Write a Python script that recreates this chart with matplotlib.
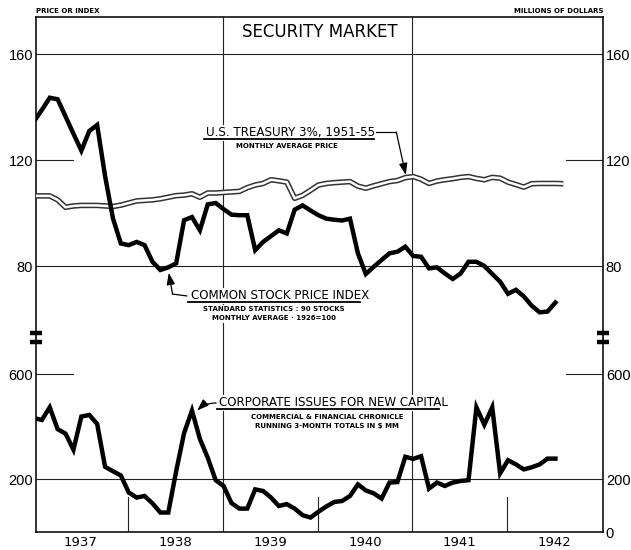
import numpy as np
import matplotlib
matplotlib.use("Agg")
import matplotlib.pyplot as plt
from matplotlib.lines import Line2D

# ---- monthly series, January 1937 onward ----
stock_index = [134.6, 139.0, 143.6, 143.0, 136.5, 130.0, 123.6, 131.0, 133.3, 114.0,
               98.0, 88.5, 87.9, 89.1, 87.9, 81.6, 78.5, 79.5, 81.0, 97.3,
               98.5, 93.5, 103.3, 103.8, 101.5, 99.4, 99.2, 99.2, 86.0, 89.1,
               91.3, 93.5, 92.3, 101.3, 102.9, 101.0, 99.2, 97.9, 97.5, 97.2,
               97.9, 84.8, 77.0, 79.7, 82.3, 84.8, 85.4, 87.3, 83.8, 83.5,
               79.1, 79.5, 77.2, 75.1, 77.2, 81.6, 81.6, 80.0, 77.0, 74.1,
               69.5, 71.0, 68.5, 65.0, 62.5, 62.8, 66.2]

treasury_price = [106.5, 106.5, 106.5, 105.0, 102.2, 102.7, 102.9, 102.9, 102.9, 102.7,
                  102.5, 103.0, 103.8, 104.6, 104.8, 105.0, 105.4, 106.0, 106.6, 106.8,
                  107.3, 106.0, 107.6, 107.6, 107.8, 108.0, 108.2, 109.6, 110.6, 111.2,
                  112.6, 112.2, 111.7, 105.6, 106.7, 108.6, 110.6, 111.2, 111.5, 111.7,
                  111.9, 110.2, 109.4, 110.3, 111.1, 111.9, 112.3, 113.4, 113.8, 112.8,
                  111.2, 112.1, 112.6, 113.0, 113.5, 113.8, 113.1, 112.6, 113.5, 113.2,
                  111.7, 110.8, 109.8, 111.1, 111.2, 111.2, 111.2, 111.1]

corporate_issues = [433, 426, 474, 391, 374, 313, 439, 445, 411, 248,
                    231, 215, 150, 131, 137, 109, 74, 74, 231, 376,
                    462, 354, 282, 197, 175, 110, 89, 89, 162, 156,
                    131, 99, 106, 89, 64, 55, 77, 97, 114, 118,
                    137, 181, 158, 147, 127, 188, 190, 286, 278, 288,
                    165, 188, 175, 188, 194, 197, 474, 408, 474, 223,
                    273, 257, 238, 246, 257, 279, 279]

year_labels = ["1937", "1938", "1939", "1940", "1941", "1942"]
upper_ticks = [80, 120, 160]
lower_ticks_left = [200, 600]
lower_ticks_right = [0, 200, 600]


def month_positions(n):
    return 1937 + (np.arange(n) + 0.1) / 12.0


NUM_FONT = "Liberation Sans"
TICK_FS = 10.5

W, H = 631, 550
fig = plt.figure(figsize=(W / 100, H / 100), dpi=100)
fig.patch.set_facecolor("white")

L, R, T, B, BRK = 36, 603, 17, 532, 338
ax_up = fig.add_axes([L / W, 1 - BRK / H, (R - L) / W, (BRK - T) / H])
ax_lo = fig.add_axes([L / W, 1 - B / H, (R - L) / W, (B - BRK) / H], sharex=ax_up)

XLIM = (1937.03, 1943.01)
ax_up.set_xlim(*XLIM)
ax_up.set_ylim(52.8, 174.1)
ax_lo.set_ylim(0, 737.6)

GRID = dict(color="#222222", lw=0.8, zorder=1)
SPINE_LW = 1.2

for ax in (ax_up, ax_lo):
    for s in ax.spines.values():
        s.set_linewidth(SPINE_LW)
        s.set_color("#111111")
    ax.tick_params(length=0)
ax_up.spines["bottom"].set_visible(False)
ax_lo.spines["top"].set_visible(False)

# upper scale: price / index
ax_up.set_yticks(upper_ticks)
ax_up.tick_params(axis="y", labelleft=True, labelright=True, labelsize=TICK_FS, pad=2)
ax_up.tick_params(axis="x", labelbottom=False)
ax_up.axhline(160, **GRID)
ax_up.axhline(80, **GRID)
ax_up.axhline(120, xmin=0, xmax=0.065, **GRID)
ax_up.axhline(120, xmin=0.935, xmax=1, **GRID)
ax_up.axvline(1939, **GRID)
ax_up.axvline(1941, **GRID)

# lower scale: millions of dollars
ax_lo.set_yticks(lower_ticks_left)
ax_lo.tick_params(axis="y", labelsize=TICK_FS, pad=2)
ax_r = ax_lo.twinx()
ax_r.set_ylim(ax_lo.get_ylim())
ax_r.set_yticks(lower_ticks_right)
ax_r.tick_params(length=0, labelsize=TICK_FS, pad=2)
for s in ax_r.spines.values():
    s.set_visible(False)

ax_lo.axhline(200, **GRID)
ax_lo.axhline(600, xmin=0, xmax=0.065, **GRID)
ax_lo.axhline(600, xmin=0.935, xmax=1, **GRID)
ax_lo.axvline(1939, **GRID)
ax_lo.axvline(1941, **GRID)
for yr in (1938, 1940, 1942):
    ax_lo.axvline(yr, ymin=0, ymax=0.18, **GRID)

ax_lo.set_xticks([y + 0.5 for y in range(1937, 1943)])
ax_lo.set_xticklabels(year_labels)
ax_lo.tick_params(axis="x", labelsize=9.5, pad=3)

for a in (ax_up, ax_lo, ax_r):
    for t in a.yaxis.get_major_ticks():
        t.label1.set_family(NUM_FONT)
        t.label2.set_family(NUM_FONT)

# series
x_stock = month_positions(len(stock_index))
x_treas = month_positions(len(treasury_price))
x_corp = month_positions(len(corporate_issues))

ax_up.plot(x_treas, treasury_price, color="#333333", lw=4.0, zorder=3,
           solid_joinstyle="round", solid_capstyle="butt")
ax_up.plot(x_treas, treasury_price, color="white", lw=1.8, zorder=4,
           solid_joinstyle="round", solid_capstyle="butt")
ax_up.plot(x_stock, stock_index, color="black", lw=3.2, zorder=5,
           solid_joinstyle="miter")
ax_lo.plot(x_corp, corporate_issues, color="black", lw=3.2, zorder=5,
           solid_joinstyle="miter")

# labels and leaders
WB = dict(facecolor="white", edgecolor="none", pad=1.0)
BIG = 8.6
SMALL = 5.0

ax_up.text(1938.82, 130.3, "U.S. TREASURY 3%, 1951-55", fontsize=BIG,
           ha="left", va="center", bbox=WB, zorder=6)
ax_up.plot([1938.80, 1940.60], [127.9, 127.9], color="black", lw=1.3, zorder=7)
ax_up.text(1939.675, 125.2, "MONTHLY AVERAGE PRICE", fontsize=SMALL,
           fontweight="bold", ha="center", va="center", bbox=WB, zorder=6)
ax_up.plot([1940.62, 1940.83], [130.6, 130.6], color="black", lw=0.9, zorder=7)
ax_up.annotate("", xy=(1940.93, 114.4), xytext=(1940.83, 130.6),
               arrowprops=dict(arrowstyle="-|>,head_length=0.7,head_width=0.25",
                               color="black", lw=0.9, shrinkA=0, shrinkB=0),
               zorder=7)

ax_up.text(1938.66, 68.7, "COMMON STOCK PRICE INDEX", fontsize=BIG,
           ha="left", va="center", bbox=WB, zorder=6)
ax_up.plot([1938.63, 1940.45], [66.4, 66.4], color="black", lw=1.3, zorder=7)
ax_up.text(1939.54, 63.6, "STANDARD STATISTICS : 90 STOCKS", fontsize=SMALL,
           fontweight="bold", ha="center", va="center", bbox=WB, zorder=6)
ax_up.text(1939.54, 60.2, "MONTHLY AVERAGE \u00b7 1926=100", fontsize=SMALL,
           fontweight="bold", ha="center", va="center", bbox=WB, zorder=6)
ax_up.plot([1938.62, 1938.47], [68.7, 69.4], color="black", lw=0.9, zorder=7)
ax_up.annotate("", xy=(1938.43, 77.4), xytext=(1938.47, 69.4),
               arrowprops=dict(arrowstyle="-|>,head_length=0.7,head_width=0.25",
                               color="black", lw=0.9, shrinkA=0, shrinkB=0),
               zorder=7)

ax_lo.text(1938.96, 490.5, "CORPORATE ISSUES FOR NEW CAPITAL", fontsize=BIG,
           ha="left", va="center", bbox=WB, zorder=6)
ax_lo.plot([1938.94, 1941.28], [465.8, 465.8], color="black", lw=1.3, zorder=7)
ax_lo.text(1940.10, 437, "COMMERCIAL & FINANCIAL CHRONICLE", fontsize=SMALL,
           fontweight="bold", ha="center", va="center", bbox=WB, zorder=6)
ax_lo.text(1940.10, 403, "RUNNING 3-MONTH TOTALS IN $ MM", fontsize=SMALL,
           fontweight="bold", ha="center", va="center", bbox=WB, zorder=6)
ax_lo.annotate("", xy=(1938.73, 462), xytext=(1938.93, 490.5),
               arrowprops=dict(arrowstyle="-|>,head_length=0.7,head_width=0.25",
                               color="black", lw=0.9, shrinkA=0, shrinkB=0,
                               connectionstyle="arc3,rad=0.2"),
               zorder=7)

# title and scale captions
ax_up.text(0.5, 0.952, "SECURITY MARKET", transform=ax_up.transAxes,
           fontsize=12, ha="center", va="center", bbox=WB, zorder=6)
fig.text(L / W, 1 - 11 / H, "PRICE OR INDEX", fontsize=SMALL, fontweight="bold",
         ha="left", va="center")
fig.text(R / W, 1 - 11 / H, "MILLIONS OF DOLLARS", fontsize=SMALL, fontweight="bold",
         ha="right", va="center")

# scale-break marks on both sides
for x0, x1 in ((30, 42), (597, 609)):
    for yy in (333, 342):
        fig.add_artist(Line2D([x0 / W, x1 / W], [1 - yy / H, 1 - yy / H],
                              color="black", lw=3.2, solid_capstyle="butt"))

fig.savefig("out.png", dpi=100, facecolor="white")
